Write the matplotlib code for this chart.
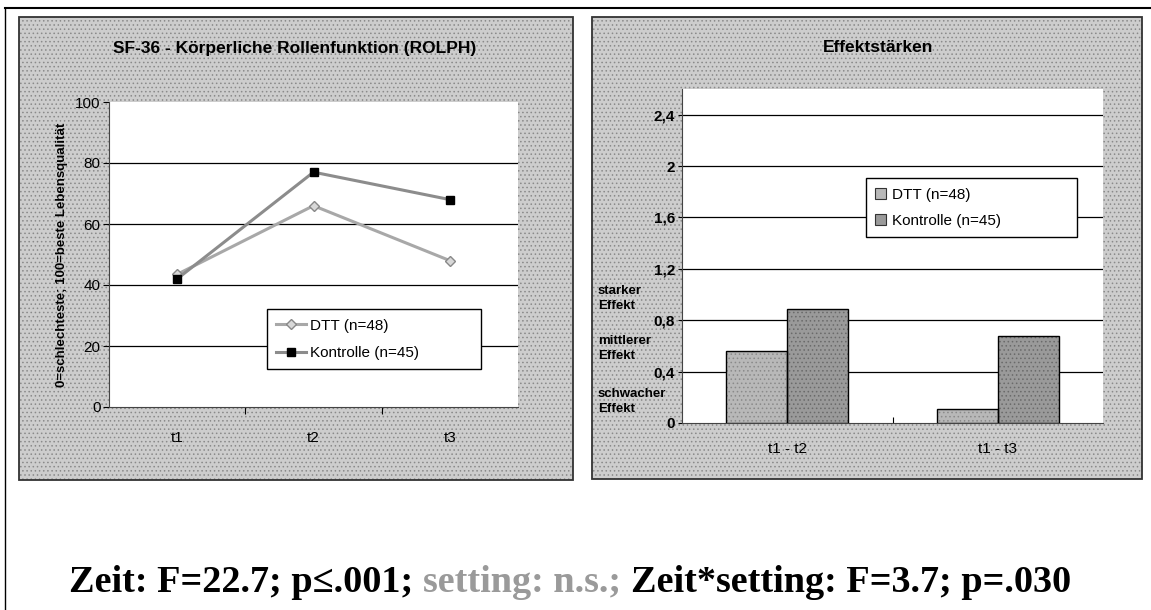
import matplotlib
matplotlib.use("Agg")
import matplotlib.pyplot as plt
from matplotlib.patches import Rectangle, Patch
import numpy as np

# ---------------- data ----------------
time_points = ["t1", "t2", "t3"]
dtt_scores = [43.5, 66, 48]
kontrolle_scores = [42, 77, 68]
left_yticks = [0, 20, 40, 60, 80, 100]

comparisons = ["t1 - t2", "t1 - t3"]
dtt_effects = [0.56, 0.11]
kontrolle_effects = [0.89, 0.68]
right_yticks = [0, 0.4, 0.8, 1.2, 1.6, 2.0, 2.4]
right_yticklabels = ["0", "0,4", "0,8", "1,2", "1,6", "2", "2,4"]
effect_labels = [("starker\nEffekt", 0.97), ("mittlerer\nEffekt", 0.58), ("schwacher\nEffekt", 0.17)]

label_dtt = "DTT (n=48)"
label_kon = "Kontrolle (n=45)"
title_left = "SF-36 - Körperliche Rollenfunktion (ROLPH)"
title_right = "Effektstärken"
ylabel_left = "0=schlechteste; 100=beste Lebensqualität"
stats_parts = [("Zeit: F=22.7; p≤.001; ", "black"),
               ("setting: n.s.; ", "#9a9a9a"),
               ("Zeit*setting: F=3.7; p=.030", "black")]

W, H = 1151, 610
fig = plt.figure(figsize=(W / 100, H / 100), dpi=100)
fig.patch.set_facecolor("white")
plt.rcParams['font.family'] = ['Liberation Sans', 'DejaVu Sans']
plt.rcParams['hatch.linewidth'] = 0.6

def fx(px):
    return px / W

def fy(py):
    return 1 - py / H

panel_color = "#cdcdcd"
dtt_bar_color = "#b8b8b8"
kon_bar_color = "#9a9a9a"

# outer frame lines
fig.add_artist(plt.Line2D([fx(5), fx(1151)], [fy(8), fy(8)], color="black", lw=1.5))
fig.add_artist(plt.Line2D([fx(5), fx(5)], [fy(8), fy(610)], color="black", lw=1.0))

# gray textured panels
for (x0, y0, x1, y1) in [(19, 17, 573, 480), (592, 17, 1142, 479)]:
    rect = (fx(x0), fy(y1)), fx(x1) - fx(x0), fy(y0) - fy(y1)
    fig.add_artist(Rectangle(*rect, transform=fig.transFigure, facecolor=panel_color,
                             edgecolor="none", zorder=0))
    fig.add_artist(Rectangle(*rect, transform=fig.transFigure, facecolor="none",
                             edgecolor="#8a8a8a", lw=0, hatch="....", zorder=0))
    fig.add_artist(Rectangle(*rect, transform=fig.transFigure, facecolor="none",
                             edgecolor="#333333", lw=1.3, zorder=0))

# ---------------- left chart ----------------
axL = fig.add_axes([fx(109), fy(407), fx(518) - fx(109), fy(102) - fy(407)])
axL.set_facecolor("white")
x = np.arange(len(time_points))
axL.plot(x, dtt_scores, color="#a8a8a8", lw=2.2, marker="D", ms=5,
         mfc="#d8d8d8", mec="#888888", label=label_dtt, zorder=3)
axL.plot(x, kontrolle_scores, color="#8c8c8c", lw=2.2, marker="s", ms=6,
         mfc="black", mec="black", label=label_kon, zorder=3)
axL.set_xlim(-0.5, 2.5)
axL.set_ylim(0, 100)
axL.set_yticks(left_yticks)
axL.set_yticklabels([str(v) for v in left_yticks], fontsize=11)
axL.set_xticks([0.5, 1.5], minor=False)
axL.set_xticklabels([])
axL.set_xticks(x, minor=True)
axL.set_xticklabels(time_points, minor=True, fontsize=11)
axL.tick_params(axis="x", which="minor", length=0, pad=17)
axL.tick_params(axis="x", which="major", length=5, direction="out")
axL.tick_params(axis="y", length=4, direction="out", pad=2)
for v in left_yticks[1:-1]:
    axL.axhline(v, color="black", lw=0.9, zorder=1)
for s in ["top", "right"]:
    axL.spines[s].set_visible(False)
axL.spines["left"].set_color("#444444")
axL.spines["bottom"].set_color("#444444")
axL.set_ylabel(ylabel_left, fontsize=9.5, fontweight="bold", labelpad=5)
legL = axL.legend(loc="lower left", bbox_to_anchor=(0.367, 0.098, 0.56, 0.223),
                  mode="expand", frameon=True, fancybox=False, fontsize=11,
                  handlelength=2.0, labelspacing=0.9, borderpad=0.6, handletextpad=0.2)
legL.get_frame().set_edgecolor("black")
legL.get_frame().set_linewidth(1.0)
legL.get_frame().set_alpha(1)
legL.set_zorder(5)
fig.text(fx(295), fy(48), title_left, ha="center", va="center", fontsize=12.5, fontweight="bold")

# ---------------- right chart ----------------
axR = fig.add_axes([fx(682), fy(423), fx(1103) - fx(682), fy(89) - fy(423)])
axR.set_facecolor("white")
xc = np.arange(len(comparisons))
bw = 0.29
axR.bar(xc - bw / 2, dtt_effects, bw, color=dtt_bar_color, edgecolor="#8a8a8a", lw=0,
        hatch="....", zorder=3)
axR.bar(xc + bw / 2, kontrolle_effects, bw, color=kon_bar_color, edgecolor="#6a6a6a", lw=0,
        hatch="....", zorder=3)
axR.bar(xc - bw / 2, dtt_effects, bw, fill=False, edgecolor="black", lw=1.0, zorder=4)
axR.bar(xc + bw / 2, kontrolle_effects, bw, fill=False, edgecolor="black", lw=1.0, zorder=4)
axR.set_xlim(-0.5, 1.5)
axR.set_ylim(0, 2.6)
axR.set_yticks(right_yticks)
axR.set_yticklabels(right_yticklabels, fontsize=11, fontweight="bold")
for v in right_yticks[1:]:
    axR.axhline(v, color="black", lw=0.9, zorder=1)
axR.set_xticks([0.5], minor=False)
axR.set_xticklabels([])
axR.set_xticks(xc, minor=True)
axR.set_xticklabels(comparisons, minor=True, fontsize=11)
axR.tick_params(axis="x", which="minor", length=0, pad=14)
axR.tick_params(axis="x", which="major", length=4, direction="in")
axR.tick_params(axis="y", length=3, direction="out", pad=2)
for s in ["top", "right"]:
    axR.spines[s].set_visible(False)
axR.spines["left"].set_color("#444444")
axR.spines["bottom"].set_color("#444444")
for txt, yv in effect_labels:
    axR.text(-0.2, yv, txt, transform=axR.get_yaxis_transform(), ha="left", va="center",
             fontsize=9.5, fontweight="bold", linespacing=1.35)
leg_handles = [Patch(facecolor=dtt_bar_color, edgecolor="#333333", lw=0.8),
               Patch(facecolor=kon_bar_color, edgecolor="#333333", lw=0.8)]
legR = axR.legend(leg_handles, [label_dtt, label_kon], loc="lower left",
                  bbox_to_anchor=(0.437, 0.557, 0.501, 0.186),
                  mode="expand", frameon=True, fancybox=False, fontsize=11,
                  handlelength=0.7, handleheight=0.7, labelspacing=0.8,
                  borderpad=0.6, handletextpad=0.4, borderaxespad=0)
legR.get_frame().set_edgecolor("black")
legR.get_frame().set_linewidth(1.0)
legR.get_frame().set_alpha(1)
legR.set_zorder(5)
fig.text(fx(878), fy(47), title_right, ha="center", va="center", fontsize=12.5, fontweight="bold")

# ---------------- bottom statistics line ----------------
fig.canvas.draw()
renderer = fig.canvas.get_renderer()
fp = dict(fontsize=27.5, fontweight="bold", family=["Liberation Serif", "DejaVu Serif"])
widths = []
for s, c in stats_parts:
    t = fig.text(0, 0, s, **fp)
    widths.append(t.get_window_extent(renderer).width)
    t.remove()
total = sum(widths)
cur = 570 - total / 2
for (s, c), w in zip(stats_parts, widths):
    fig.text(fx(cur), fy(592), s, color=c, ha="left", va="baseline", **fp)
    cur += w

fig.savefig("out.png", dpi=100, facecolor="white")
